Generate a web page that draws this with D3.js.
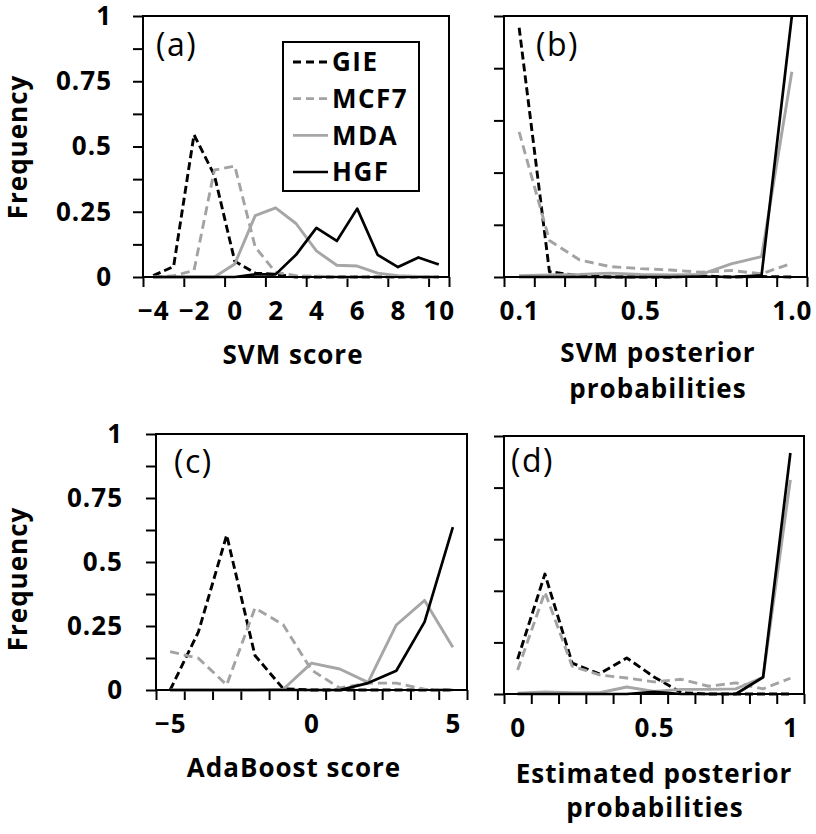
<!DOCTYPE html>
<html><head><meta charset="utf-8">
<script src="https://cdn.jsdelivr.net/npm/d3@7"></script>
<style>
body{margin:0;background:#fff}
svg{display:block}
text{font-family:"Open Sans",sans-serif;fill:#000}
</style>
</head><body>
<svg id="chart" width="816" height="834"></svg>
<script>
// ---------------- data ----------------
const seriesNames = ["GIE", "MCF7", "MDA", "HGF"];

// (a) SVM score
const aCats = [-4,-3,-2,-1,0,1,2,3,4,5,6,7,8,9,10];
const aGIE  = [0.005,0.04,0.545,0.39,0.06,0.015,0.01,0,0,0,0,0,0,0,0];
const aMCF7 = [0,0.005,0.025,0.41,0.425,0.115,0.018,0.005,0.003,0,0,0,0,0,0];
const aMDA  = [0,0,0,0,0.05,0.235,0.265,0.205,0.1,0.045,0.042,0.015,0.005,0.002,0];
const aHGF  = [0,0,0,0,0,0.01,0.01,0.085,0.188,0.138,0.262,0.085,0.038,0.075,0.048];
const aTickCats   = [-4,-2,0,2,4,6,8,10];
const aTickLabels = ["\u22124","\u22122","0","2","4","6","8","10"];

// (b) SVM posterior probabilities
const bCats = [0.1,0.2,0.3,0.4,0.5,0.6,0.7,0.8,0.9,1.0];
const bGIE  = [0.955,0.02,0.005,0,0,0,0.004,0,0.002,0];
const bMCF7 = [0.556,0.14,0.065,0.04,0.032,0.027,0.018,0.025,0.012,0.053];
const bMDA  = [0.005,0.008,0.01,0.015,0.01,0.008,0.01,0.05,0.078,0.786];
const bHGF  = [0,0,0,0,0,0,0.002,0,0.006,1.0];
const bTickCats   = [0.1,0.5,1.0];
const bTickLabels = ["0.1","0.5","1.0"];

// (c) AdaBoost score
const cCats = [-5,-4,-3,-2,-1,0,1,2,3,4,5];
const cGIE  = [0,0.227,0.605,0.135,0.005,0,0,0,0,0,0];
const cMCF7 = [0.15,0.124,0.02,0.32,0.255,0.078,0.008,0.027,0.027,0.003,0];
const cMDA  = [0,0,0,0,0.003,0.105,0.082,0.03,0.254,0.35,0.167];
const cHGF  = [0,0,0,0,0,0,0,0.027,0.075,0.266,0.636];
const cTickCats   = [-5,0,5];
const cTickLabels = ["\u22125","0","5"];

// (d) Estimated posterior probabilities
const dCats = [0,0.1,0.2,0.3,0.4,0.5,0.6,0.7,0.8,0.9,1.0];
const dGIE  = [0.135,0.465,0.12,0.078,0.14,0.066,0.005,0,0,0,0];
const dMCF7 = [0.093,0.395,0.108,0.074,0.062,0.047,0.057,0.03,0.043,0.02,0.061];
const dMDA  = [0.003,0.008,0.005,0.005,0.027,0.01,0.018,0.018,0.02,0.065,0.83];
const dHGF  = [0,0,0,0,0,0.008,0,0,0,0.065,0.934];
const dTickCats   = [0,0.5,1];
const dTickLabels = ["0","0.5","1"];

const yLabelValues = [0,0.25,0.5,0.75,1];
const yLabelTexts  = ["0","0.25","0.5","0.75","1"];

// ---------------- styles ----------------
const styles = {
  GIE:  {color:"#000000", dash:"8,4", width:2.9},
  MCF7: {color:"#a3a3a3", dash:"9,5", width:2.9},
  MDA:  {color:"#a6a6a6", dash:null,  width:2.9},
  HGF:  {color:"#000000", dash:null,  width:2.7}
};

const svg = d3.select("#chart");

function panel(cfg){
  const {L,R,T,B,cats,series,tickEvery,tickCats,tickLabels,yStep,yLabels,yPad,tag,tagX,tagY} = cfg;
  const n = cats.length;
  const g = svg.append("g");
  const x = d3.scaleLinear().domain([-0.5, n-0.5]).range([L,R]);
  const y = d3.scaleLinear().domain([0,1]).range([B,T]);

  let bounds = d3.range(-0.5, n-0.5+1e-9, tickEvery);
  if (bounds[bounds.length-1] < n-0.5-1e-9) bounds.push(n-0.5);
  const xt = g.append("g").attr("transform",`translate(0,${B})`)
    .call(d3.axisBottom(x).tickValues(bounds).tickSize(10).tickFormat(""));
  xt.select(".domain").remove();
  xt.selectAll("line").attr("stroke","#000").attr("stroke-width",2);

  const labIdx = tickCats.map(c => cats.findIndex(v => Math.abs(v-c)<1e-9));
  const xl = g.append("g").attr("transform",`translate(0,${B})`)
    .call(d3.axisBottom(x).tickValues(labIdx).tickSize(0).tickPadding(25)
      .tickFormat((d,i)=>tickLabels[i]));
  xl.select(".domain").remove();
  xl.selectAll("text").attr("font-family","Open Sans").attr("font-weight","bold")
    .attr("font-size",26).attr("letter-spacing",1).attr("fill","#000");

  const yt = g.append("g").attr("transform",`translate(${L},0)`)
    .call(d3.axisLeft(y).tickValues(d3.range(0,1+1e-9,yStep)).tickSize(10).tickFormat(""));
  yt.select(".domain").remove();
  yt.selectAll("line").attr("stroke","#000").attr("stroke-width",2);

  if (yLabels){
    const yl = g.append("g").attr("transform",`translate(${L},0)`)
      .call(d3.axisLeft(y).tickValues(yLabelValues).tickSize(0).tickPadding(yPad)
        .tickFormat((d,i)=>yLabelTexts[i]));
    yl.select(".domain").remove();
    yl.selectAll("text").attr("font-family","Open Sans").attr("font-weight","bold")
      .attr("font-size",26).attr("letter-spacing",1).attr("fill","#000");
  }

  const line = d3.line().x((d,i)=>x(i)).y(d=>y(d));
  seriesNames.forEach((name,k)=>{
    const st = styles[name];
    g.append("path").datum(series[k])
      .attr("d", line)
      .attr("fill","none")
      .attr("stroke", st.color)
      .attr("stroke-width", st.width)
      .attr("stroke-dasharray", st.dash)
      .attr("stroke-linejoin","round");
  });

  g.append("rect").attr("x",L).attr("y",T).attr("width",R-L).attr("height",B-T)
    .attr("fill","none").attr("stroke","#000").attr("stroke-width",2);

  g.append("text").attr("x",tagX).attr("y",tagY).attr("font-size",32)
    .attr("letter-spacing",1.5).text(tag);
}

panel({L:143,R:449,T:16,B:277,cats:aCats,series:[aGIE,aMCF7,aMDA,aHGF],tickEvery:2,
  tickCats:aTickCats,tickLabels:aTickLabels,yStep:0.125,yLabels:true,yPad:31,tag:"(a)",tagX:156,tagY:56});
panel({L:504,R:807,T:16,B:277,cats:bCats,series:[bGIE,bMCF7,bMDA,bHGF],tickEvery:1,
  tickCats:bTickCats,tickLabels:bTickLabels,yStep:0.2,yLabels:false,tag:"(b)",tagX:536,tagY:56});
panel({L:156,R:467,T:434,B:690,cats:cCats,series:[cGIE,cMCF7,cMDA,cHGF],tickEvery:1,
  tickCats:cTickCats,tickLabels:cTickLabels,yStep:0.125,yLabels:true,yPad:33,tag:"(c)",tagX:174,tagY:473});
panel({L:504,R:804,T:436,B:694,cats:dCats,series:[dGIE,dMCF7,dMDA,dHGF],tickEvery:1,
  tickCats:dTickCats,tickLabels:dTickLabels,yStep:0.2,yLabels:false,tag:"(d)",tagX:511,tagY:472});

function title(txt,x,y,rot){
  const t = svg.append("text").attr("font-weight","bold").attr("font-size",26)
    .attr("letter-spacing",1).attr("text-anchor","middle").text(txt);
  if (rot) t.attr("transform",`translate(${x},${y}) rotate(-90)`);
  else t.attr("x",x).attr("y",y);
}
title("Frequency",27,147,true);
title("Frequency",27,579,true);
title("SVM score",293,364);
title("SVM posterior",658,362);
title("probabilities",658,398);
title("AdaBoost score",294,777);
title("Estimated posterior",654,783);
title("probabilities",655,817);

const lg = svg.append("g");
lg.append("rect").attr("x",283).attr("y",42).attr("width",136).attr("height",149)
  .attr("fill","#fff").attr("stroke","#000").attr("stroke-width",2);
const legY = d3.scalePoint().domain(seriesNames).range([62,172]);
seriesNames.forEach(name=>{
  const st = styles[name];
  lg.append("line").attr("x1",293).attr("x2",328).attr("y1",legY(name)).attr("y2",legY(name))
    .attr("stroke",st.color).attr("stroke-width",st.width)
    .attr("stroke-dasharray", st.dash ? "8,5" : null);
  lg.append("text").attr("x",332).attr("y",legY(name)).attr("dy","0.36em")
    .attr("font-weight","bold").attr("font-size",26).attr("letter-spacing",1.5).text(name);
});
</script>
</body></html>
